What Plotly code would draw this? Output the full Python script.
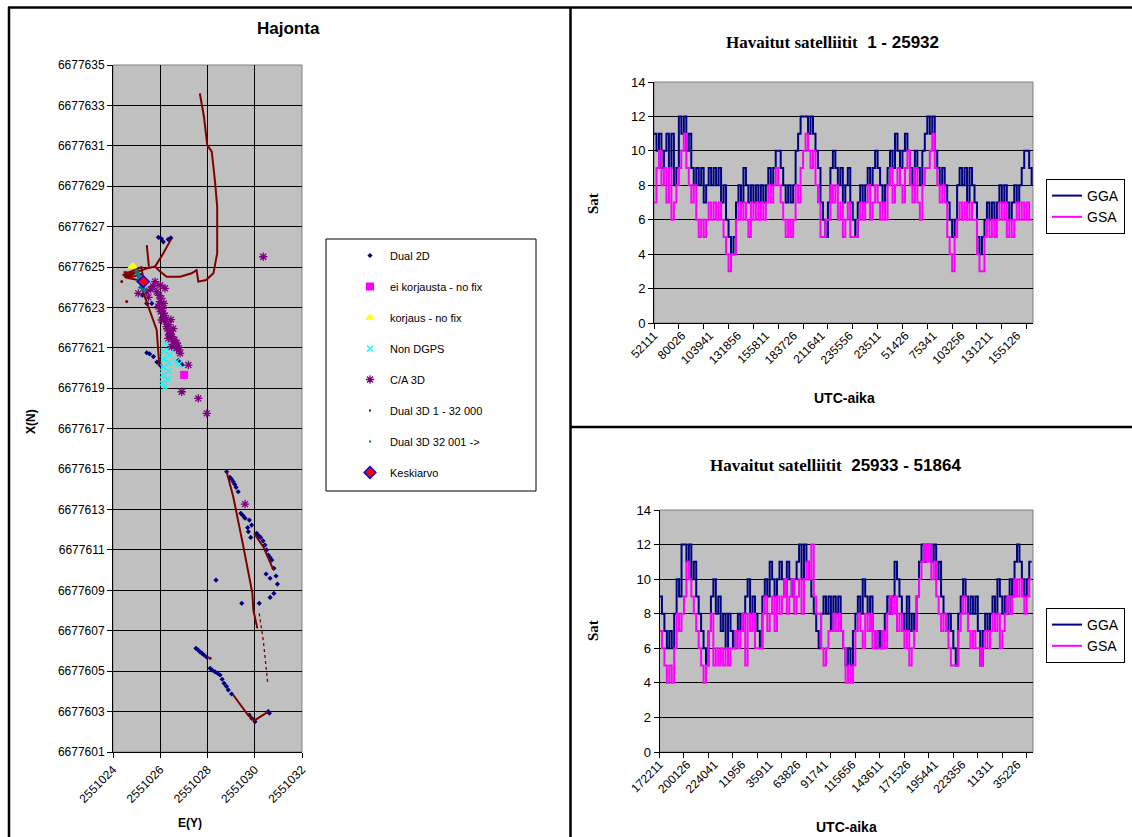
import plotly.graph_objects as go

W, H = 1132, 837

# ---------------- Hajonta (scatter) data ----------------
dual2d_e = [2551025.92, 2551026.05, 2551026.13, 2551026.34, 2551026.45,
            2551025.43, 2551025.55, 2551025.71, 2551025.86, 2551025.99,
            2551026.76, 2551026.85, 2551026.92,
            2551025.43, 2551025.64, 2551025.30, 2551025.25,
            2551028.81, 2551028.95, 2551029.02, 2551029.09, 2551029.15, 2551029.21, 2551029.30,
            2551029.41, 2551029.50, 2551029.59, 2551029.77, 2551029.73, 2551029.83, 2551029.87, 2551029.70,
            2551030.08, 2551030.17, 2551030.25, 2551030.35, 2551030.43, 2551030.50, 2551030.57, 2551030.65,
            2551030.72, 2551030.81,
            2551030.48, 2551030.65, 2551030.90, 2551030.96, 2551030.81, 2551030.65,
            2551028.36, 2551029.45, 2551030.19,
            2551027.51, 2551027.60, 2551027.68, 2551027.77, 2551027.85, 2551027.97,
            2551028.11, 2551028.20, 2551028.32, 2551028.42, 2551028.53, 2551028.62, 2551028.70, 2551028.80,
            2551028.88, 2551029.02,
            2551029.77, 2551029.87, 2551030.01, 2551030.57, 2551030.62]
dual2d_n = [6677626.47, 6677626.40, 6677626.25, 6677626.37, 6677626.44,
            6677620.76, 6677620.70, 6677620.57, 6677620.30, 6677620.15,
            6677620.37, 6677620.25, 6677620.17,
            6677623.20, 6677623.20, 6677624.10, 6677623.60,
            6677614.87, 6677614.59, 6677614.50, 6677614.38, 6677614.25, 6677614.10, 6677613.88,
            6677612.81, 6677612.70, 6677612.57, 6677612.48, 6677611.90, 6677611.62, 6677612.23, 6677612.10,
            6677611.82, 6677611.70, 6677611.62, 6677611.45, 6677611.24, 6677611.00, 6677610.75, 6677610.62,
            6677610.50, 6677610.09,
            6677609.81, 6677609.60, 6677609.71, 6677609.31, 6677608.85, 6677608.65,
            6677609.51, 6677608.36, 6677608.36,
            6677606.13, 6677606.05, 6677605.96, 6677605.88, 6677605.80, 6677605.69,
            6677605.14, 6677605.05, 6677604.97, 6677604.90, 6677604.81, 6677604.60, 6677604.40, 6677604.25,
            6677604.07, 6677603.87,
            6677602.83, 6677602.67, 6677602.50, 6677603.00, 6677602.92]

nofix_e = [2551027.01]
nofix_n = [6677619.66]

korjaus_e = [2551024.79, 2551024.86]
korjaus_n = [6677625.02, 6677625.05]

nondgps_e = [2551026.25, 2551026.40, 2551026.15, 2551026.40, 2551026.15, 2551026.38, 2551026.12,
             2551026.35, 2551026.10, 2551026.32, 2551026.08, 2551026.20, 2551026.69, 2551026.80]
nondgps_n = [6677621.20, 6677621.00, 6677620.85, 6677620.65, 6677620.45, 6677620.25, 6677620.05,
             6677619.85, 6677619.65, 6677619.45, 6677619.25, 6677619.05, 6677620.32, 6677620.20]

ca3d_e = [2551025.78, 2551026.20, 2551025.85, 2551025.43, 2551025.07, 2551025.99, 2551025.92, 2551026.13,
          2551026.06, 2551026.27, 2551026.41, 2551026.34, 2551026.55, 2551026.48, 2551026.69, 2551026.84,
          2551027.19, 2551026.91, 2551027.61, 2551027.97, 2551030.36, 2551029.59,
          2551025.95, 2551026.05, 2551025.98, 2551026.10, 2551026.02, 2551026.20, 2551026.15, 2551026.25,
          2551026.35, 2551026.30, 2551026.45, 2551026.38, 2551026.50, 2551026.60, 2551026.62, 2551026.75,
          2551026.80, 2551026.70, 2551025.60, 2551025.70, 2551026.00, 2551025.50, 2551026.15, 2551026.45,
          2551026.55]
ca3d_n = [6677624.28, 6677623.95, 6677623.78, 6677623.78, 6677623.70, 6677623.29, 6677623.04, 6677622.71,
          6677622.38, 6677622.05, 6677621.72, 6677621.47, 6677621.31, 6677621.06, 6677620.98, 6677620.73,
          6677620.15, 6677618.83, 6677618.50, 6677617.76, 6677625.51, 6677613.27,
          6677623.60, 6677623.45, 6677623.10, 6677622.95, 6677622.80, 6677622.60, 6677622.45, 6677622.30,
          6677622.15, 6677621.95, 6677621.85, 6677621.65, 6677621.55, 6677621.40, 6677621.15, 6677621.10,
          6677620.90, 6677621.25, 6677623.90, 6677624.05, 6677624.10, 6677623.50, 6677623.20, 6677622.40,
          6677621.95]

# Dual 3D 1 - 32 000 track (None separates runs)
track_e = [2551027.683, 2551027.85, 2551027.99, 2551028.18, 2551028.32, 2551028.41, 2551028.41, 2551028.25,
           2551027.94, 2551027.61, 2551027.54, 2551027.33, 2551026.84, 2551026.27, 2551025.96, 2551025.78,
           2551025.43, 2551024.86, 2551024.44, None,
           2551025.78, 2551026.13, 2551026.48, None,
           2551025.43, 2551025.52, None,
           2551024.40, 2551025.20, 2551025.30, 2551024.50, 2551025.10, 2551024.60, 2551025.25, 2551024.45, None,
           2551025.14, 2551025.43, 2551025.64, 2551025.85, 2551025.96, None,
           2551028.81, 2551029.09, 2551029.52, 2551029.90, 2551029.94, 2551030.11, None,
           2551029.97, 2551030.36, 2551030.79, None,
           2551029.09, 2551029.66, 2551029.97, 2551030.57]
track_n = [6677633.55, 6677632.44, 6677631.04, 6677630.71, 6677629.22, 6677627.98, 6677625.68, 6677624.69,
           6677624.36, 6677624.28, 6677624.85, 6677624.69, 6677624.52, 6677624.52, 6677624.82, 6677625.02,
           6677624.94, 6677624.69, 6677624.56, None,
           6677625.02, 6677625.68, 6677626.42, None,
           6677626.09, 6677625.02, None,
           6677624.60, 6677625.00, 6677624.30, 6677624.50, 6677624.85, 6677624.45, 6677624.65, 6677624.75, None,
           6677624.20, 6677623.29, 6677622.54, 6677621.89, 6677620.15, None,
           6677614.87, 6677613.63, 6677611.16, 6677608.85, 6677608.03, 6677607.12, None,
           6677611.82, 6677611.16, 6677610.01, None,
           6677603.82, 6677602.91, 6677602.55, 6677603.00]
track_dot_e = [2551030.19, 2551030.36, 2551030.55]
track_dot_n = [6677607.86, 6677606.54, 6677604.40]
track_pts_e = [2551024.58, 2551024.37, 2551028.11]
track_pts_n = [6677623.29, 6677624.28, 6677605.64]

dual3d_b_e = [2551024.97, 2551025.02, 2551025.05, 2551025.10, 2551025.12, 2551025.08, 2551025.20,
              2551025.25, 2551025.18, 2551025.28, 2551025.37]
dual3d_b_n = [6677624.85, 6677624.75, 6677624.60, 6677624.55, 6677624.40, 6677624.30, 6677624.20,
              6677624.10, 6677624.00, 6677623.95, 6677623.78]

mean_e = [2551025.28]
mean_n = [6677624.28]

# ---------------- Satellite counts ----------------
REC_STEP = 170          # records between plotted samples
TICK_STEP = 1700        # records between tick marks
LABEL_STEP = 1911       # records between tick labels

top_labels = ["52111", "80026", "103941", "131856", "155811", "183726", "211641",
              "235556", "23511", "51426", "75341", "103256", "131211", "155126"]
bottom_labels = ["172211", "200126", "224041", "11956", "35911", "63826", "91741",
                 "115656", "143611", "171526", "195441", "223356", "11311", "35226"]

top_gga = [11, 10, 11, 9, 10, 11, 9, 11, 8, 9,
           12, 11, 12, 10, 11, 9, 8, 9, 8, 9,
           7, 8, 9, 8, 9, 8, 9, 7, 8, 6,
           5, 4, 5, 7, 8, 7, 9, 8, 7, 8,
           7, 8, 7, 8, 7, 8, 9, 8, 9, 10,
           10, 9, 8, 7, 8, 7, 8, 10, 11, 12,
           12, 12, 11, 12, 11, 10, 9, 7, 6, 5,
           7, 9, 10, 9, 8, 9, 7, 8, 9, 7,
           6, 5, 7, 8, 7, 8, 9, 8, 9, 10,
           9, 8, 7, 8, 9, 10, 9, 11, 10, 9,
           10, 11, 10, 9, 8, 10, 9, 8, 10, 11,
           12, 11, 12, 10, 9, 8, 9, 8, 7, 6,
           5, 6, 8, 9, 8, 9, 7, 9, 8, 7,
           5, 4, 5, 6, 7, 6, 7, 6, 7, 8,
           7, 8, 7, 6, 7, 8, 7, 8, 9, 10,
           10, 9, 8]
top_gsa = [7, 9, 10, 8, 9, 7, 9, 6, 7, 8,
           9, 10, 11, 9, 8, 7, 8, 6, 5, 6,
           5, 6, 7, 6, 7, 6, 7, 6, 5, 4,
           3, 4, 4, 6, 7, 6, 7, 6, 5, 7,
           6, 7, 6, 7, 6, 7, 8, 7, 8, 9,
           8, 7, 6, 5, 6, 5, 6, 8, 7, 9,
           10, 11, 10, 9, 10, 8, 7, 5, 5, 6,
           6, 8, 7, 8, 6, 7, 5, 6, 7, 5,
           5, 5, 6, 7, 6, 7, 8, 6, 7, 8,
           7, 6, 7, 6, 8, 9, 7, 8, 9, 8,
           7, 9, 10, 8, 7, 9, 7, 6, 8, 9,
           9, 10, 11, 9, 8, 7, 8, 7, 5, 4,
           3, 5, 6, 7, 6, 7, 6, 7, 6, 6,
           4, 3, 3, 5, 6, 5, 6, 5, 6, 7,
           6, 7, 5, 6, 5, 6, 7, 6, 7, 6,
           7, 6, 6]

bottom_gga = [9, 8, 7, 6, 7, 6, 8, 10, 9, 12,
              12, 11, 12, 10, 11, 9, 8, 7, 6, 5,
              7, 9, 10, 8, 9, 7, 8, 6, 8, 7,
              6, 7, 8, 7, 8, 9, 10, 8, 9, 8,
              7, 6, 9, 10, 9, 11, 10, 9, 10, 11,
              10, 9, 11, 10, 9, 10, 11, 12, 10, 12,
              11, 10, 9, 8, 7, 6, 8, 9, 8, 9,
              7, 9, 8, 9, 7, 6, 5, 6, 5, 7,
              8, 9, 8, 10, 9, 8, 9, 7, 6, 7,
              6, 7, 8, 9, 8, 9, 11, 10, 9, 8,
              7, 9, 7, 8, 7, 9, 11, 12, 11, 12,
              12, 11, 12, 10, 11, 9, 8, 7, 8, 7,
              6, 5, 8, 9, 10, 9, 8, 9, 8, 9,
              7, 5, 7, 8, 7, 8, 9, 8, 10, 9,
              8, 9, 8, 10, 9, 11, 12, 11, 10, 9,
              10, 11, 11]
bottom_gsa = [7, 6, 5, 4, 5, 4, 6, 8, 7, 8,
              9, 11, 10, 9, 8, 7, 6, 5, 4, 5,
              7, 8, 5, 6, 5, 6, 5, 6, 5, 6,
              6, 7, 6, 7, 8, 5, 8, 7, 8, 6,
              6, 6, 8, 9, 7, 8, 9, 7, 9, 8,
              9, 10, 8, 9, 10, 8, 9, 10, 8, 10,
              11, 10, 12, 9, 8, 8, 6, 5, 6, 7,
              7, 8, 7, 8, 7, 6, 4, 5, 4, 5,
              7, 8, 7, 6, 8, 7, 8, 6, 7, 6,
              6, 7, 6, 8, 9, 8, 9, 7, 8, 7,
              6, 7, 5, 6, 7, 9, 10, 11, 12, 11,
              12, 10, 11, 9, 8, 7, 8, 7, 6, 5,
              5, 5, 7, 8, 9, 8, 7, 6, 7, 6,
              6, 5, 6, 7, 6, 7, 8, 7, 8, 6,
              7, 8, 9, 8, 9, 10, 9, 10, 9, 8,
              9, 10, 10]

N_RECORDS = 25932

# ---------------- helpers ----------------
def fx(px):
    return px / W

def fy(py):
    return 1 - py / H

SANS = "Liberation Sans"
SERIF = "Liberation Serif"
GRAY = "#C0C0C0"

fig = go.Figure()

# ---- left scatter traces ----
def grp(name):
    return dict(legend="legend", legendgroup=name, xaxis="x", yaxis="y")

fig.add_trace(go.Scatter(x=dual2d_e, y=dual2d_n, mode="markers", name="Dual 2D",
                         marker=dict(symbol="diamond", size=4, color="#000080"), **grp("a")))
fig.add_trace(go.Scatter(x=nofix_e, y=nofix_n, mode="markers", name="ei korjausta - no fix",
                         marker=dict(symbol="square", size=8, color="#FF00FF"), **grp("b")))
fig.add_trace(go.Scatter(x=korjaus_e, y=korjaus_n, mode="markers", name="korjaus - no fix",
                         marker=dict(symbol="triangle-up", size=8, color="#FFFF00"), **grp("c")))
fig.add_trace(go.Scatter(x=nondgps_e, y=nondgps_n, mode="markers", name="Non DGPS",
                         marker=dict(symbol="x-thin-open", size=6, color="#00FFFF",
                                     line=dict(color="#00FFFF", width=1.3)), **grp("d")))
fig.add_trace(go.Scatter(x=ca3d_e, y=ca3d_n, mode="markers", name="C/A 3D",
                         marker=dict(symbol="asterisk-open", size=7, color="#800080",
                                     line=dict(color="#800080", width=1.3)), **grp("e")))
fig.add_trace(go.Scatter(x=track_e[:1], y=track_n[:1], mode="markers", name="Dual 3D 1 - 32 000",
                         marker=dict(symbol="square", size=2, color="#800000"), **grp("f")))
fig.add_trace(go.Scatter(x=track_e, y=track_n, mode="lines", showlegend=False,
                         line=dict(color="#800000", width=2), **grp("f")))
fig.add_trace(go.Scatter(x=track_dot_e, y=track_dot_n, mode="lines", showlegend=False,
                         line=dict(color="#800000", width=1.3, dash="dot"), **grp("f")))
fig.add_trace(go.Scatter(x=track_pts_e, y=track_pts_n, mode="markers", showlegend=False,
                         marker=dict(size=3, color="#800000"), **grp("f")))
fig.add_trace(go.Scatter(x=dual3d_b_e[:1], y=dual3d_b_n[:1], mode="markers", name="Dual 3D 32 001 ->",
                         marker=dict(symbol="square", size=2, color="#008080"), **grp("g")))
fig.add_trace(go.Scatter(x=dual3d_b_e, y=dual3d_b_n, mode="lines", showlegend=False,
                         line=dict(color="#008080", width=4), **grp("g")))
fig.add_trace(go.Scatter(x=mean_e, y=mean_n, mode="markers", name="Keskiarvo",
                         marker=dict(symbol="diamond", size=9, color="#FF0000",
                                     line=dict(color="#0000FF", width=1.5)), **grp("h")))

# ---- satellite charts ----
def sat_traces(gga, gsa, xa, ya, leg):
    xs = [i * REC_STEP for i in range(len(gga))]
    fig.add_trace(go.Scatter(x=xs, y=gga, mode="lines", name="GGA", line=dict(color="#000080", width=2, shape="hv"),
                             xaxis=xa, yaxis=ya, legend=leg))
    xs2 = [i * REC_STEP for i in range(len(gsa))]
    fig.add_trace(go.Scatter(x=xs2, y=gsa, mode="lines", name="GSA", line=dict(color="#FF00FF", width=2, shape="hv"),
                             xaxis=xa, yaxis=ya, legend=leg))

sat_traces(top_gga, top_gsa, "x2", "y2", "legend2")
sat_traces(bottom_gga, bottom_gsa, "x3", "y3", "legend3")

tick_font = dict(family=SANS, size=12, color="black")

def sat_xaxis(labels, dom):
    return dict(domain=dom, range=[0, N_RECORDS], tickmode="array",
                tickvals=[i * LABEL_STEP for i in range(len(labels))], ticktext=labels,
                ticks="", tickangle=-45, tickfont=dict(family=SANS, size=12, color="black"),
                showgrid=False, zeroline=False, showline=True, linecolor="black", linewidth=1,
                minor=dict(tickmode="array", tickvals=[k * TICK_STEP for k in range(16)],
                           ticks="outside", ticklen=5, tickcolor="black", tickwidth=1, showgrid=False),
                automargin=False, fixedrange=True)

def sat_yaxis(dom, anchor):
    return dict(domain=dom, range=[0, 14], dtick=2, tick0=0, anchor=anchor,
                showgrid=True, gridcolor="black", gridwidth=1, zeroline=False,
                showline=True, linecolor="black", linewidth=1, ticks="outside", ticklen=5,
                tickcolor="black", tickfont=dict(family=SANS, size=13, color="black"), automargin=False)

leg_font = dict(family=SANS, size=14, color="black")
layout = dict(
    width=W, height=H, margin=dict(l=0, r=0, t=0, b=0, pad=0, autoexpand=False),
    paper_bgcolor="white", plot_bgcolor=GRAY, showlegend=True,
    xaxis=dict(domain=[fx(113), fx(302)], range=[2551024, 2551032], tick0=2551024, dtick=2,
               tickformat="d", tickangle=-45, tickfont=tick_font, anchor="y",
               showgrid=True, gridcolor="black", gridwidth=1, zeroline=False, automargin=False,
               showline=True, linecolor="black", ticks="outside", ticklen=5, tickcolor="black"),
    yaxis=dict(domain=[fy(752), fy(65)], range=[6677601, 6677635], tick0=6677601, dtick=2,
               tickformat="d", tickfont=tick_font, anchor="x", automargin=False,
               showgrid=True, gridcolor="black", gridwidth=1, zeroline=False,
               showline=True, linecolor="black", ticks="outside", ticklen=5, tickcolor="black"),
    xaxis2=dict(sat_xaxis(top_labels, [fx(654), fx(1033)]), anchor="y2"),
    yaxis2=sat_yaxis([fy(323), fy(82)], "x2"),
    xaxis3=dict(sat_xaxis(bottom_labels, [fx(659.5), fx(1033)]), anchor="y3"),
    yaxis3=sat_yaxis([fy(752), fy(510)], "x3"),
    legend=dict(x=fx(350), y=fy(241), xanchor="left", yanchor="top", bgcolor="rgba(0,0,0,0)",
                borderwidth=0, font=dict(family=SANS, size=11, color="black"),
                traceorder="grouped", tracegroupgap=12, itemsizing="trace"),
    legend2=dict(x=fx(1046), y=fy(179), xanchor="left", yanchor="top", bgcolor="white",
                 bordercolor="black", borderwidth=1, font=leg_font, tracegroupgap=0),
    legend3=dict(x=fx(1046), y=fy(608), xanchor="left", yanchor="top", bgcolor="white",
                 bordercolor="black", borderwidth=1, font=leg_font, tracegroupgap=0),
)
fig.update_layout(**layout)

# ---- shapes: panel frames, plot borders, legend box ----
shapes = []
line_k = dict(color="black", width=2.5)
shapes.append(dict(type="line", xref="paper", yref="paper", x0=fx(9), x1=fx(9), y0=fy(7), y1=fy(840), line=line_k))
shapes.append(dict(type="line", xref="paper", yref="paper", x0=fx(8), x1=fx(1134), y0=fy(7.5), y1=fy(7.5), line=line_k))
shapes.append(dict(type="line", xref="paper", yref="paper", x0=fx(570.5), x1=fx(570.5), y0=fy(7), y1=fy(840), line=line_k))
shapes.append(dict(type="line", xref="paper", yref="paper", x0=fx(570), x1=fx(1134), y0=fy(427), y1=fy(427), line=line_k))
for (x0, x1, y0, y1) in [(113, 302, 65, 752), (654, 1033, 82, 323), (659.5, 1033, 510, 752)]:
    shapes.append(dict(type="rect", xref="paper", yref="paper", x0=fx(x0), x1=fx(x1), y0=fy(y1), y1=fy(y0),
                       line=dict(color="#808080", width=1), layer="below"))
shapes.append(dict(type="rect", xref="paper", yref="paper", x0=fx(326), x1=fx(536), y0=fy(491), y1=fy(239),
                   line=dict(color="black", width=1), fillcolor="white", layer="below"))
fig.update_layout(shapes=shapes)

# ---- text annotations ----
ann = []
def txt(text, x, y, size, family=SANS, angle=0, bold=True):
    ann.append(dict(text=("<b>%s</b>" % text) if bold else text, x=fx(x), y=fy(y), xref="paper", yref="paper",
                    showarrow=False, xanchor="center", yanchor="middle", textangle=angle,
                    font=dict(family=family, size=size, color="black")))

txt("Hajonta", 288, 29, 17)
txt("X(N)", 31, 422, 12, angle=-90)
txt("E(Y)", 190, 823, 12)
txt("<span style='font-family:Liberation Serif'>Havaitut satelliitit</span>  1 - 25932", 832, 42, 17)
txt("<span style='font-family:Liberation Serif'>Havaitut satelliitit</span>  25933 - 51864", 835, 465, 17)
txt("Sat", 593, 203, 15, family=SERIF, angle=-90)
txt("Sat", 593, 630, 15, family=SERIF, angle=-90)
txt("UTC-aika", 844, 398, 14)
txt("UTC-aika", 846, 827, 14)
fig.update_layout(annotations=ann)

fig.write_html("out.html")
